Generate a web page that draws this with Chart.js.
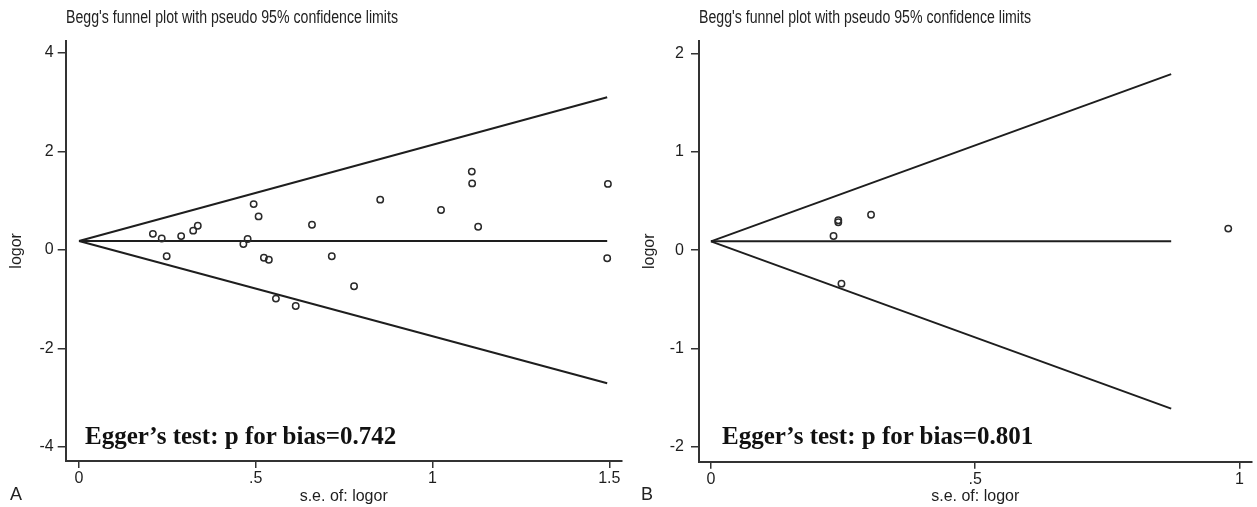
<!DOCTYPE html>
<html>
<head>
<meta charset="utf-8">
<script src="https://cdn.jsdelivr.net/npm/chart.js@4.4.0/dist/chart.umd.min.js"></script>
<style>
body{margin:0;background:#fff;width:1257px;height:507px;overflow:hidden;position:relative;font-family:'Liberation Sans',Arial,sans-serif;}
canvas{position:absolute;top:0;}
.title{position:absolute;top:8px;font-size:18px;line-height:1;color:#222;white-space:nowrap;transform-origin:0 0;}
.egger{position:absolute;top:423px;font-family:'Liberation Serif','Times New Roman',serif;font-weight:bold;font-size:25px;line-height:1;color:#111;white-space:nowrap;}
.letter{position:absolute;top:485px;font-size:18px;line-height:1;color:#222;}
</style>
</head>
<body>
<canvas id="chartA" width="628" height="507" style="left:0px"></canvas>
<canvas id="chartB" width="627" height="507" style="left:630px"></canvas>
<div class="title" id="titleA" style="left:66px">Begg's funnel plot with pseudo 95% confidence limits</div>
<div class="title" id="titleB" style="left:699px">Begg's funnel plot with pseudo 95% confidence limits</div>
<div class="egger" style="left:85px">Egger’s test: p for bias=0.742</div>
<div class="egger" style="left:722px">Egger’s test: p for bias=0.801</div>
<div class="letter" style="left:10px">A</div>
<div class="letter" style="left:641px">B</div>
<script>
// panel A - studies
const seA = [0.209,0.234,0.248,0.289,0.323,0.336,0.465,0.477,0.494,0.508,0.523,0.537,0.557,0.613,0.659,0.715,0.778,0.852,1.024,1.111,1.112,1.129,1.496,1.494];
const logorA = [0.325,0.23,-0.13,0.28,0.39,0.49,0.12,0.22,0.93,0.68,-0.16,-0.20,-0.99,-1.14,0.51,-0.13,-0.74,1.02,0.81,1.59,1.35,0.47,1.34,-0.17];
// panel A - pooled line and pseudo 95% limits
const limXA = [0, 1.494];
const upperA = [0.18, 3.10];
const lowerA = [0.18, -2.71];
const pooledA = [0.18, 0.18];
const xTicksA = [0, 0.5, 1, 1.5];
const xTickLabelsA = ['0', '.5', '1', '1.5'];
const yTicksA = [-4, -2, 0, 2, 4];
const yTickLabelsA = ['-4', '-2', '0', '2', '4'];

// panel B - studies
const seB = [0.232,0.241,0.241,0.247,0.303,0.979];
const logorB = [0.145,0.285,0.305,-0.34,0.36,0.22];
const limXB = [0, 0.871];
const upperB = [0.09, 1.79];
const lowerB = [0.09, -1.61];
const pooledB = [0.09, 0.09];
const xTicksB = [0, 0.5, 1];
const xTickLabelsB = ['0', '.5', '1'];
const yTicksB = [-2, -1, 0, 1, 2];
const yTickLabelsB = ['-2', '-1', '0', '1', '2'];

const ink = '#1e1e1e';
const tickFont = {family:"'Liberation Sans', Arial, sans-serif", size:16};
const titleFont = {family:"'Liberation Sans', Arial, sans-serif", size:16};

function pts(xs, ys){ return xs.map((x,i)=>({x:x, y:ys[i]})); }

function lineSet(xs, ys){
  return {data: pts(xs, ys), showLine:true, borderColor:ink, borderWidth:2, pointRadius:0, fill:false};
}

function funnel(id, o){
  new Chart(document.getElementById(id), {
    type: 'scatter',
    data: {
      datasets: [
        {data: pts(o.se, o.logor), showLine:false, pointRadius:3.2, pointBorderWidth:1.5,
         pointBorderColor:'#2a2a2a', pointBackgroundColor:'rgba(255,255,255,0)'},
        lineSet(o.limX, o.upper),
        lineSet(o.limX, o.lower),
        lineSet(o.limX, o.pooled)
      ]
    },
    options: {
      responsive:false,
      animation:false,
      layout:{padding:{left:0, right:o.padRight, top:40.7, bottom:0}},
      plugins:{legend:{display:false}, tooltip:{enabled:false}},
      scales:{
        x:{
          type:'linear', min:o.xMin, max:o.xMax,
          afterBuildTicks: s => { s.ticks = o.xTicks.map(v=>({value:v})); },
          afterFit: s => { s.height = 507 - o.bottom; },
          ticks:{autoSkip:false, maxRotation:0, padding:1, color:ink, font:tickFont,
                 callback:(v,i)=>o.xLabels[i]},
          grid:{display:true, drawOnChartArea:false, drawTicks:true, tickLength:7, color:'#333', lineWidth:1.5},
          border:{display:true, color:'#333', width:2},
          title:{display:true, text:'s.e. of: logor', color:ink, font:titleFont, padding:{top:0, bottom:0.5}}
        },
        y:{
          type:'linear', min:o.yMin, max:o.yMax,
          afterBuildTicks: s => { s.ticks = o.yTicks.map(v=>({value:v})); },
          afterFit: s => { s.width = o.left; },
          ticks:{autoSkip:false, padding:o.yPad, color:ink, font:tickFont,
                 callback:(v,i)=>o.yLabels[i]},
          grid:{display:true, drawOnChartArea:false, drawTicks:true, tickLength:8, color:'#333', lineWidth:1.5},
          border:{display:true, color:'#333', width:2},
          title:{display:true, text:'logor', color:ink, font:titleFont, padding:{top:o.yTitlePad, bottom:0}}
        }
      }
    }
  });
}

funnel('chartA', {se:seA, logor:logorA, limX:limXA, upper:upperA, lower:lowerA, pooled:pooledA,
  xMin:-0.0376, xMax:1.535, yMin:-4.29, yMax:4.25, xTicks:xTicksA, xLabels:xTickLabelsA,
  yTicks:yTicksA, yLabels:yTickLabelsA, left:65.7, padRight:6.3, bottom:461, yPad:4, yTitlePad:7});

funnel('chartB', {se:seB, logor:logorB, limX:limXB, upper:upperB, lower:lowerB, pooled:pooledB,
  xMin:-0.0226, xMax:1.023, yMin:-2.15, yMax:2.13, xTicks:xTicksB, xLabels:xTickLabelsB,
  yTicks:yTicksB, yLabels:yTickLabelsB, left:69, padRight:3.7, bottom:461.7, yPad:7, yTitlePad:10});

// squeeze the titles to the narrow width of the original
['titleA','titleB'].forEach(id=>{
  const el = document.getElementById(id);
  const w = el.getBoundingClientRect().width;
  el.style.transform = 'scaleX(' + (332 / w) + ')';
});
</script>
</body>
</html>
